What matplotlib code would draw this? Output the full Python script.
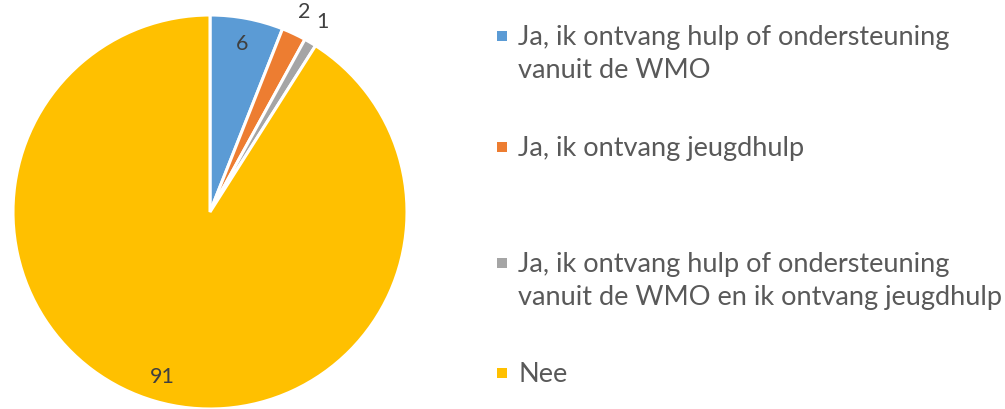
import numpy as np
import matplotlib.pyplot as plt
from matplotlib.patches import Rectangle

labels = [
    "Ja, ik ontvang hulp of ondersteuning\nvanuit de WMO",
    "Ja, ik ontvang jeugdhulp",
    "Ja, ik ontvang hulp of ondersteuning\nvanuit de WMO en ik ontvang jeugdhulp",
    "Nee",
]
values = [6, 2, 1, 91]
colors = ["#5B9BD5", "#ED7D31", "#A5A5A5", "#FFC000"]

W, H = 1005, 409
fig = plt.figure(figsize=(W / 100, H / 100), dpi=100)
plt.rcParams["font.family"] = ["Lato", "DejaVu Sans"]

# pie axes: centre (210, 212) px, radius 197 px
cx, cy, r = 210, 212, 197
ax = fig.add_axes([(cx - r) / W, (H - cy - r) / H, 2 * r / W, 2 * r / H])
wedges, _ = ax.pie(values, colors=colors, startangle=90, counterclock=False,
                   wedgeprops=dict(edgecolor="white", linewidth=2.2))
ax.set_xlim(-1, 1)
ax.set_ylim(-1, 1)
ax.set_aspect("auto")
ax.axis("off")

# data labels: big slices inside, small ones outside
for w, v in zip(wedges, values):
    mid = np.deg2rad((w.theta1 + w.theta2) / 2)
    d = 0.87 if v >= 5 else 1.12
    ax.text(d * np.cos(mid), d * np.sin(mid), str(v), ha="center", va="center",
            fontsize=15.5, color="#404040", clip_on=False)

# legend (baseline of first line per entry, in px from top)
baselines = [45, 156, 272, 382]
for lab, col, y in zip(labels, colors, baselines):
    fig.patches.append(Rectangle((497 / W, (H - y + 4) / H), 10 / W, 10 / H,
                                 transform=fig.transFigure, facecolor=col,
                                 edgecolor="none"))
    for i, line in enumerate(lab.split("\n")):
        fig.text(518 / W, (H - y - 33 * i) / H, line, ha="left", va="baseline",
                 fontsize=19.5, color="#595959")

fig.savefig("out.png", dpi=100)
